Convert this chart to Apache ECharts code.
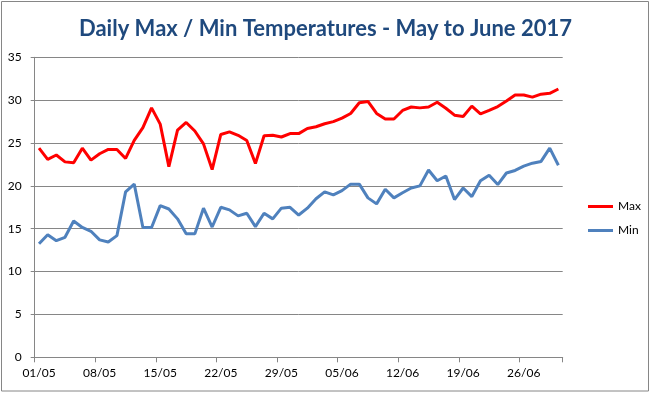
<!DOCTYPE html>
<html>
<head>
<meta charset="utf-8">
<script src="https://cdn.jsdelivr.net/npm/echarts@6/dist/echarts.min.js"></script>
<style>
html,body{margin:0;padding:0;background:#fff;}
#chart{width:651px;height:393px;}
</style>
</head>
<body>
<div id="chart"></div>
<script>
var dates = ['01/05','02/05','03/05','04/05','05/05','06/05','07/05','08/05','09/05','10/05',
'11/05','12/05','13/05','14/05','15/05','16/05','17/05','18/05','19/05','20/05',
'21/05','22/05','23/05','24/05','25/05','26/05','27/05','28/05','29/05','30/05','31/05',
'01/06','02/06','03/06','04/06','05/06','06/06','07/06','08/06','09/06','10/06',
'11/06','12/06','13/06','14/06','15/06','16/06','17/06','18/06','19/06','20/06',
'21/06','22/06','23/06','24/06','25/06','26/06','27/06','28/06','29/06','30/06'];

var maxTemps = [24.4,23.1,23.6,22.8,22.7,24.4,23.0,23.75,24.25,24.25,23.2,25.3,26.8,29.1,27.2,22.25,26.5,27.4,26.4,24.9,21.9,
26.0,26.3,25.9,25.3,22.6,25.85,25.9,25.7,26.1,26.1,26.7,26.9,27.25,27.5,27.9,28.45,29.7,29.85,28.45,27.8,27.8,
28.8,29.2,29.1,29.2,29.75,29.05,28.25,28.1,29.3,28.4,28.8,29.25,29.9,30.6,30.6,30.35,30.7,30.8,31.3];

var minTemps = [13.25,14.3,13.6,14.0,15.9,15.15,14.7,13.7,13.45,14.2,19.3,20.2,15.15,15.15,17.7,17.3,16.15,14.4,14.4,17.4,15.2,
17.5,17.2,16.5,16.8,15.25,16.8,16.15,17.4,17.5,16.6,17.4,18.5,19.3,18.95,19.45,20.2,20.2,18.6,17.9,19.6,18.6,
19.2,19.75,20.0,21.85,20.6,21.15,18.4,19.75,18.75,20.6,21.25,20.15,21.5,21.8,22.3,22.65,22.85,24.4,22.4];

var seriesNames = ['Max','Min'];
var titleText = 'Daily Max / Min Temperatures - May to June 2017';

var chart = echarts.init(document.getElementById('chart'), null, {renderer:'canvas'});
var FONT = 'Lato';
chart.setOption({
  animation: false,
  backgroundColor: '#ffffff',
  title: {
    text: titleText,
    left: 'center',
    top: 13,
    textStyle: {fontFamily: FONT, fontSize: 22, fontWeight: 'bold', color: '#1F497D'}
  },
  graphic: [{
    type: 'rect',
    shape: {x: 1.5, y: 1.5, width: 647, height: 389.5},
    style: {fill: 'none', stroke: '#868686', lineWidth: 1},
    silent: true
  }],
  legend: {
    orient: 'vertical',
    left: 583,
    top: 194,
    icon: 'rect',
    itemWidth: 25,
    itemHeight: 3,
    itemGap: 9,
    data: seriesNames,
    textStyle: {fontFamily: FONT, fontSize: 12, color: '#000', lineHeight: 15}
  },
  grid: {left: 34.7, right: 88.3, top: 57.3, bottom: 35.7, containLabel: false},
  xAxis: {
    type: 'category',
    data: dates,
    boundaryGap: true,
    axisLine: {lineStyle: {color: '#868686', width: 1}},
    axisTick: {show: true, interval: 6, length: 5, lineStyle: {color: '#868686'}},
    axisLabel: {interval: 6, margin: 10, fontFamily: FONT, fontSize: 12, color: '#000'},
    splitLine: {show: false}
  },
  yAxis: {
    type: 'value',
    min: 0, max: 35, interval: 5,
    axisLine: {show: true, lineStyle: {color: '#868686', width: 1}},
    axisTick: {show: true, length: 4, lineStyle: {color: '#868686'}},
    axisLabel: {margin: 13, fontFamily: FONT, fontSize: 12, color: '#000'},
    splitLine: {show: true, lineStyle: {color: '#868686', width: 1}}
  },
  series: [
    {name: seriesNames[0], type: 'line', data: maxTemps, symbol: 'none', smooth: false,
     lineStyle: {color: '#FF0000', width: 3}, itemStyle: {color: '#FF0000'}},
    {name: seriesNames[1], type: 'line', data: minTemps, symbol: 'none', smooth: false,
     lineStyle: {color: '#4F81BD', width: 3}, itemStyle: {color: '#4F81BD'}}
  ]
});
</script>
</body>
</html>
